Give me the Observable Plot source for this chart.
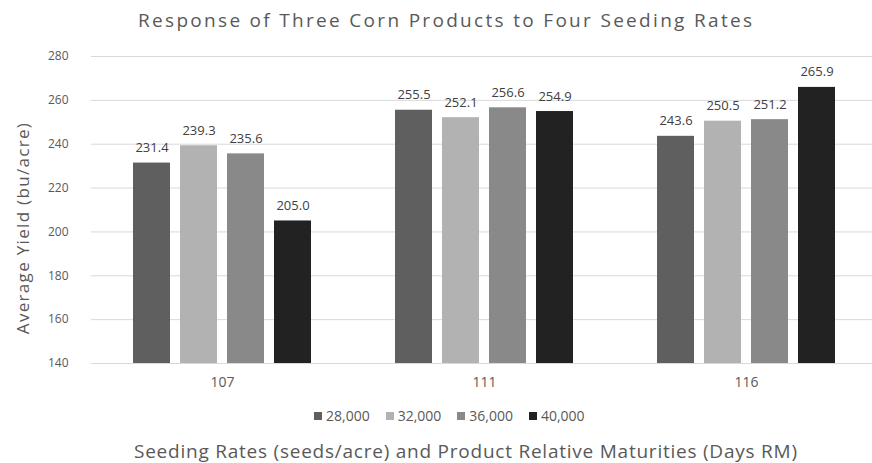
<!DOCTYPE html>
<html><head><meta charset="utf-8">
<script src="https://cdn.jsdelivr.net/npm/d3@7"></script>
<script src="https://cdn.jsdelivr.net/npm/@observablehq/plot@0.6"></script>
<style>
html,body{margin:0;padding:0;background:#fff;}
#wrap{position:relative;width:872px;height:463px;overflow:hidden;font-family:"Open Sans",sans-serif;color:#595959;}
.abs{position:absolute;white-space:nowrap;line-height:1;}
#wrap .lg-swatches{font-family:"Open Sans",sans-serif;font-size:14px;color:#595959;margin:0;}
#wrap .lg-swatches-wrap{min-height:33px;}
#wrap .lg-swatch{margin-right:16px;}
#wrap .lg-swatch > svg{margin-right:4px;}
</style></head><body><div id="wrap"></div>
<script>
// ---- data ----
const groups = ["107", "111", "116"];
const series = ["28,000", "32,000", "36,000", "40,000"];
const yield28 = [231.4, 255.5, 243.6];
const yield32 = [239.3, 252.1, 250.5];
const yield36 = [235.6, 256.6, 251.2];
const yield40 = [205.0, 254.9, 265.9];
const yDomain = [140, 280];
const yTicks = [140, 160, 180, 200, 220, 240, 260, 280];
const colors = ["#5f5f5f", "#b2b2b2", "#898989", "#222222"];
const titleText = "Response of Three Corn Products to Four Seeding Rates";
const xTitle = "Seeding Rates (seeds/acre) and Product Relative Maturities (Days RM)";
const yTitle = "Average Yield (bu/acre)";

const seriesValues = [yield28, yield32, yield36, yield40];
const data = groups.flatMap((g, i) => series.map((s, j) => ({group: g, rate: s, value: seriesValues[j][i]})));

const wrap = document.getElementById("wrap");
const cvs = document.createElement("canvas").getContext("2d");
function fitText(text, fontSize, left, width, baseline) {
  const el = document.createElement("div");
  el.className = "abs";
  el.textContent = text;
  const font = `${fontSize}px "Open Sans"`;
  cvs.font = font;
  const w = cvs.measureText(text).width;
  const ls = (width - w) / (text.length - 1);
  el.style.font = font;
  el.style.lineHeight = "1";
  el.style.letterSpacing = ls + "px";
  el.style.left = left + "px";
  el.style.top = (baseline - 0.888 * fontSize) + "px";
  wrap.appendChild(el);
  return el;
}

// title
fitText(titleText, 19, 138, 614, 27.7);

// chart: contiguous facets so that grid lines run across the whole plot
const fxRange = [91, 877];

const chart = Plot.plot({
  width: 872, height: 355,
  marginTop: 16, marginBottom: 32, marginLeft: 90, marginRight: 0,
  style: {fontFamily: "Open Sans", background: "transparent", overflow: "visible"},
  fx: {domain: groups, range: fxRange, padding: 0, label: null},
  x: {domain: series, paddingInner: 0.208, paddingOuter: 0.8345, axis: null},
  y: {domain: yDomain, axis: null},
  color: {domain: series, range: colors},
  marks: [
    Plot.gridY(yTicks, {stroke: "#d9d9d9", strokeOpacity: 1, strokeWidth: 1}),
    Plot.barY(data, {fx: "group", x: "rate", y1: yDomain[0], y2: "value", fill: "rate"}),
    Plot.text(data, {fx: "group", x: "rate", y: "value", text: d => d.value.toFixed(1), lineAnchor: "bottom", dy: -11, fontSize: 13, fill: "#404040"}),
    Plot.axisY({ticks: yTicks, tickSize: 0, tickPadding: fxRange[0] - 68, fontSize: 12, fill: "#595959", label: null}),
    Plot.axisFx({anchor: "bottom", tickSize: 0, tickPadding: 14, fontSize: 14, fill: "#595959", label: null})
  ]
});
chart.style.position = "absolute";
chart.style.left = "0px";
chart.style.top = "40px";
wrap.appendChild(chart);

// y-axis title (rotated)
const yl = fitText(yTitle, 17, 0, 211, 0);
yl.style.left = "22px";
yl.style.top = "227.5px";
yl.style.transform = "translate(-50%,-50%) rotate(-90deg)";

// legend
const lg = Plot.legend({color: {domain: series, range: colors}, legend: "swatches", swatchSize: 8, className: "lg"});
lg.style.position = "absolute";
lg.style.left = "314px";
lg.style.top = "399px";
wrap.appendChild(lg);

// x-axis title
fitText(xTitle, 19, 134, 663, 459);
</script>
</body></html>
